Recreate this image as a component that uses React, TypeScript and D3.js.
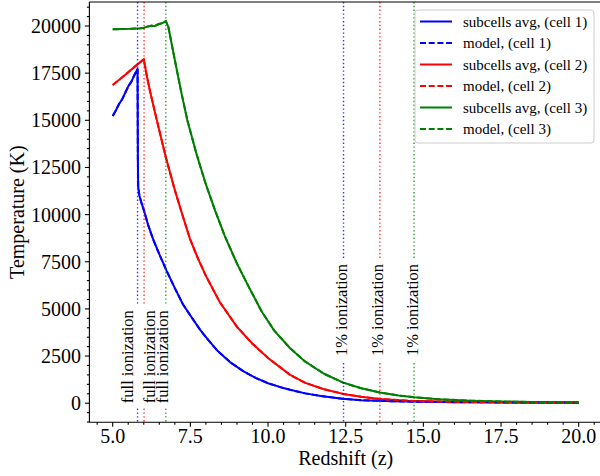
import React, { useEffect, useRef } from "react";
import * as d3 from "d3";

const W = 600;
const H = 476;

// Redshift samples and temperatures (K)
const zCell1 = [5.0, 5.1, 5.2, 5.3, 5.4, 5.5, 5.6, 5.7, 5.8, 5.81, 5.82, 5.86, 5.92, 6.0, 6.15, 6.31, 6.5, 6.74, 7.0, 7.26, 7.5, 7.81, 8.1, 8.39, 8.8, 9.2, 9.6, 10.0, 10.4, 10.71, 11.2, 11.7, 12.4, 13.0, 14.0, 15.0, 16.0, 17.0, 18.0, 19.0, 20.0];
const tCell1 = [15230, 15520, 15850, 16100, 16450, 16800, 17050, 17400, 17720, 13000, 11500, 11000, 10650, 10250, 9400, 8655, 7900, 7000, 6100, 5250, 4650, 3900, 3300, 2750, 2150, 1700, 1340, 1060, 850, 710, 520, 380, 230, 160, 105, 72, 55, 45, 38, 33, 30];

const zCell2 = [5.0, 5.25, 5.5, 5.75, 6.0, 6.1, 6.2, 6.42, 6.7, 7.0, 7.25, 7.49, 7.75, 8.0, 8.45, 9.0, 9.5, 10.0, 10.71, 11.2, 11.8, 12.42, 13.0, 13.6, 14.5, 15.5, 16.5, 17.5, 18.5, 20.0];
const tCell2 = [16870, 17200, 17550, 17900, 18235, 17350, 16550, 15010, 13100, 11300, 9950, 8700, 7650, 6750, 5350, 4050, 3150, 2400, 1500, 1080, 740, 493, 340, 225, 135, 85, 60, 48, 40, 33];

const zCell3 = [5.0, 5.3, 5.6, 5.9, 6.0, 6.1, 6.25, 6.35, 6.45, 6.55, 6.65, 6.71, 6.79, 7.0, 7.2, 7.4, 7.7, 8.0, 8.3, 8.6, 9.0, 9.4, 9.8, 10.2, 10.71, 11.2, 11.8, 12.42, 13.0, 13.6, 14.2, 14.7, 15.5, 16.5, 17.5, 18.5, 19.3, 20.0];
const tCell3 = [19825, 19840, 19850, 19880, 19900, 19960, 20020, 19990, 20080, 20130, 20200, 20260, 19960, 18200, 16550, 15020, 13200, 11600, 10200, 8900, 7400, 6100, 4850, 3850, 2915, 2200, 1560, 1090, 790, 570, 410, 318, 210, 135, 90, 62, 50, 42];

const cellColors = ["#0000ff", "#ff0000", "#008000"];
const cellNames = ["cell 1", "cell 2", "cell 3"];

// ionization markers
const fullIonZ = [5.8, 6.01, 6.71];
const fullLabelZ = [5.66, 6.36, 6.79];
const fullLabelT = 0;
const pctIonZ = [12.43, 13.6, 14.7];
const pctLabelZ = [12.53, 13.71, 14.84];
const pctLabelT = 2500;

const xTicks = [5.0, 7.5, 10.0, 12.5, 15.0, 17.5, 20.0];
const yTicks = [0, 2500, 5000, 7500, 10000, 12500, 15000, 17500, 20000];

const FONT = "'Liberation Serif', 'Times New Roman', Times, serif";

export default function App() {
  const ref = useRef<SVGSVGElement | null>(null);

  useEffect(() => {
    const svg = d3.select(ref.current);
    svg.selectAll("*").remove();

    const left = 89.4, right = 602, top = 2, bottom = 422.3;
    const x = d3.scaleLinear().domain([4.25, 20.75]).range([left, right]);
    const y = d3.scaleLinear().domain([-1013, 21273]).range([bottom, top]);

    const series = [
      { z: zCell1, t: tCell1 },
      { z: zCell2, t: tCell2 },
      { z: zCell3, t: tCell3 },
    ];

    const line = d3
      .line<[number, number]>()
      .x((d) => x(d[0]))
      .y((d) => y(d[1]));

    const plot = svg.append("g");

    // curves: subcells avg (solid) and model (dashed)
    series.forEach((s, i) => {
      const pts = s.z.map((zz, k) => [zz, s.t[k]] as [number, number]);
      plot.append("path").attr("d", line(pts)!).attr("fill", "none")
        .attr("stroke", cellColors[i]).attr("stroke-width", 2).attr("stroke-linejoin", "round");
    });
    series.forEach((s, i) => {
      const pts = s.z.map((zz, k) => [zz, s.t[k]] as [number, number]);
      plot.append("path").attr("d", line(pts)!).attr("fill", "none")
        .attr("stroke", cellColors[i]).attr("stroke-width", 2).attr("stroke-dasharray", "6,2.7");
    });

    // vertical dotted lines
    [...fullIonZ, ...pctIonZ].forEach((zz, i) => {
      plot.append("line")
        .attr("x1", x(zz)).attr("x2", x(zz)).attr("y1", top).attr("y2", bottom)
        .attr("stroke", cellColors[i % 3]).attr("stroke-width", 1.4)
        .attr("stroke-dasharray", "1.4,2.4").attr("opacity", 0.8);
    });

    // labels with white boxes
    const labels: { z: number; t: number; s: string }[] = [];
    fullLabelZ.forEach((zz) => labels.push({ z: zz, t: fullLabelT, s: "full ionization" }));
    pctLabelZ.forEach((zz) => labels.push({ z: zz, t: pctLabelT, s: "1% ionization" }));
    const rectG = plot.append("g");
    const textG = plot.append("g");
    labels.forEach((l) => {
      const g = textG.append("g").attr("transform", `translate(${x(l.z)},${y(l.t)}) rotate(-90)`);
      const txt = g.append("text").attr("x", 0).attr("y", 0)
        .attr("font-family", FONT).attr("font-size", 16.5).attr("fill", "#000").text(l.s);
      const bb = (txt.node() as SVGTextElement).getBBox();
      rectG.append("rect")
        .attr("transform", `translate(${x(l.z)},${y(l.t)}) rotate(-90)`)
        .attr("x", bb.x - 5).attr("y", bb.y - 1.5)
        .attr("width", bb.width + 10).attr("height", bb.height + 3)
        .attr("fill", "#fff");
    });

    // spines
    const ax = svg.append("g").attr("stroke", "#000").attr("stroke-width", 1.1);
    ax.append("line").attr("x1", left).attr("x2", left).attr("y1", top).attr("y2", bottom);
    ax.append("line").attr("x1", left).attr("x2", right).attr("y1", bottom).attr("y2", bottom);
    ax.append("line").attr("x1", left).attr("x2", right).attr("y1", top).attr("y2", top);
    ax.append("line").attr("x1", right).attr("x2", right).attr("y1", top).attr("y2", bottom);

    // x ticks
    d3.range(4.5, 20.75, 0.5).forEach((v) => {
      const major = xTicks.some((t) => Math.abs(t - v) < 1e-6);
      ax.append("line").attr("x1", x(v)).attr("x2", x(v)).attr("y1", bottom).attr("y2", bottom + (major ? 4.5 : 2.5));
    });
    xTicks.forEach((v) => {
      svg.append("text").attr("x", x(v)).attr("y", 443).attr("text-anchor", "middle")
        .attr("font-family", FONT).attr("font-size", 20).text(v.toFixed(1));
    });
    // y ticks
    d3.range(-1000, 21001, 500).forEach((v) => {
      const major = yTicks.includes(v);
      ax.append("line").attr("x1", left).attr("x2", left - (major ? 4.5 : 2.5)).attr("y1", y(v)).attr("y2", y(v));
    });
    yTicks.forEach((v) => {
      svg.append("text").attr("x", 81).attr("y", y(v)).attr("dy", "0.35em").attr("text-anchor", "end")
        .attr("font-family", FONT).attr("font-size", 20).text(String(v));
    });

    // axis labels
    svg.append("text").attr("x", (left + right) / 2).attr("y", 465).attr("text-anchor", "middle")
      .attr("font-family", FONT).attr("font-size", 20).text("Redshift (z)");
    svg.append("text").attr("transform", `translate(24,${(top + bottom) / 2}) rotate(-90)`)
      .attr("text-anchor", "middle").attr("font-family", FONT).attr("font-size", 20).text("Temperature (K)");

    // legend
    const lg = svg.append("g");
    lg.append("rect").attr("x", 415).attr("y", 10).attr("width", 179).attr("height", 133)
      .attr("rx", 3).attr("fill", "#fff").attr("fill-opacity", 0.8).attr("stroke", "#ccc").attr("stroke-width", 1);
    const entries: { c: string; dash: boolean; label: string }[] = [];
    cellNames.forEach((n, i) => {
      entries.push({ c: cellColors[i], dash: false, label: `subcells avg, (${n})` });
      entries.push({ c: cellColors[i], dash: true, label: `model, (${n})` });
    });
    entries.forEach((e, i) => {
      const cy = 21.5 + i * 21.5;
      lg.append("line").attr("x1", 420).attr("x2", 452).attr("y1", cy).attr("y2", cy)
        .attr("stroke", e.c).attr("stroke-width", 2).attr("stroke-dasharray", e.dash ? "6,2.7" : null);
      lg.append("text").attr("x", 463).attr("y", cy).attr("dy", "0.35em")
        .attr("font-family", FONT).attr("font-size", 15).text(e.label);
    });
  }, []);

  return (
    <svg
      ref={ref}
      width={W}
      height={H}
      style={{ position: "absolute", left: 0, top: 0, display: "block", background: "#fff" }}
    />
  );
}
